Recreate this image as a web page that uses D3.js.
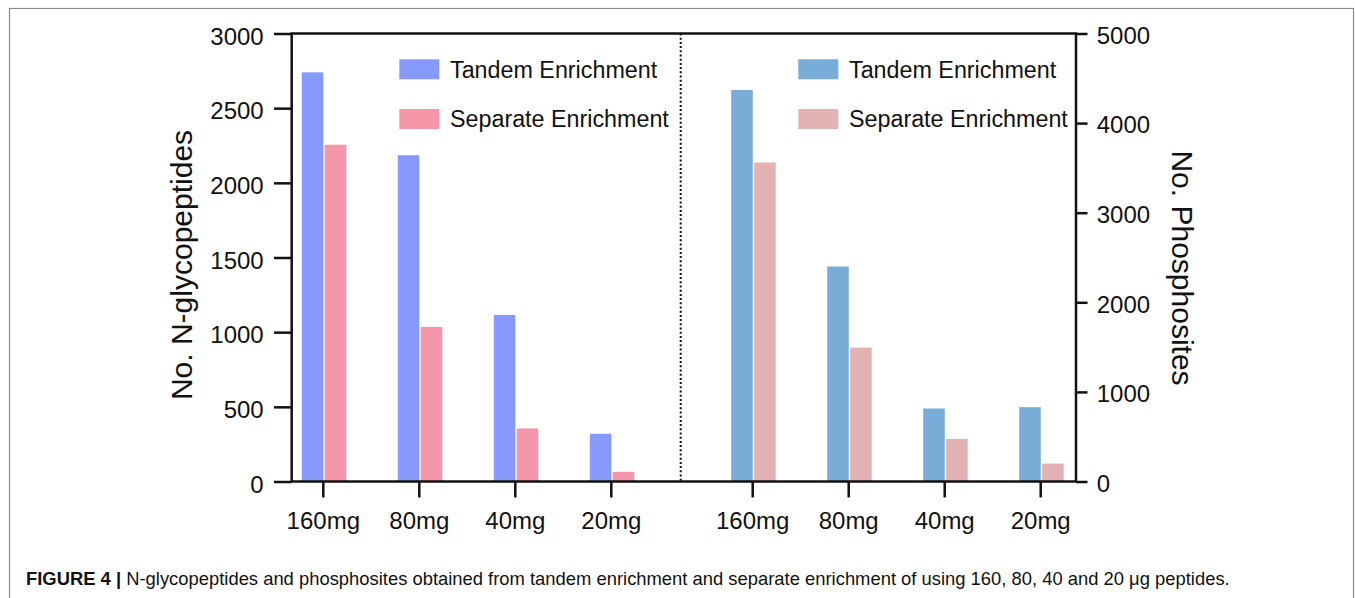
<!DOCTYPE html>
<html>
<head>
<meta charset="utf-8">
<script src="https://cdn.jsdelivr.net/npm/d3@7"></script>
<style>
  body { margin: 0; background: #fff; }
  text { font-family: "Liberation Sans", Arial, sans-serif; fill: #111; }
</style>
</head>
<body>
<div id="chart"></div>
<script>
const categories = ['160mg', '80mg', '40mg', '20mg'];
const seriesNames = ['Tandem Enrichment', 'Separate Enrichment'];
const glycoTandem = [2740, 2185, 1115, 320];
const glycoSeparate = [2255, 1035, 355, 65];
const phosTandem = [4370, 2400, 815, 830];
const phosSeparate = [3560, 1495, 475, 200];
const glycoTicks = [0, 500, 1000, 1500, 2000, 2500, 3000];
const phosTicks = [0, 1000, 2000, 3000, 4000, 5000];

const W = 1355, H = 598;
const plot = { left: 291.7, right: 1076, top: 33.5, bottom: 481.5 };

const svg = d3.select('#chart').append('svg')
    .attr('width', W)
    .attr('height', H);

// figure frame
svg.append('rect')
    .attr('x', 9.5).attr('y', 8.5)
    .attr('width', 1344).attr('height', 620)
    .attr('fill', 'none')
    .attr('stroke', '#8a8a8a')
    .attr('stroke-width', 1.2);

// Scales
const yLeft = d3.scaleLinear().domain([0, 3000]).range([plot.bottom, plot.top]);
const yRight = d3.scaleLinear().domain([0, 5000]).range([plot.bottom, plot.top]);
const xLeft = d3.scaleBand().domain(categories).range([275.3, 659.3]);
const xRight = d3.scaleBand().domain(categories).range([704.7, 1088.7]);
const xInner = d3.scaleBand().domain(seriesNames).range([-21.5, 23]).paddingInner(0.06);

const panels = [
    { x: xLeft, y: yLeft, values: [glycoTandem, glycoSeparate], colors: ['#8799fa', '#f597a8'], legendX: 399.3 },
    { x: xRight, y: yRight, values: [phosTandem, phosSeparate], colors: ['#79acd6', '#e3b2b2'], legendX: 798.3 }
];

// Bars
panels.forEach(p => {
    seriesNames.forEach((s, si) => {
        svg.append('g').selectAll('rect')
            .data(categories.map((c, i) => ({ c, v: p.values[si][i] })))
            .join('rect')
            .attr('x', d => p.x(d.c) + p.x.bandwidth() / 2 + xInner(s))
            .attr('y', d => p.y(d.v))
            .attr('width', xInner.bandwidth())
            .attr('height', d => p.y(0) - p.y(d.v))
            .attr('fill', p.colors[si]);
    });

    // Legend
    const lg = svg.append('g').attr('transform', `translate(${p.legendX},0)`);
    seriesNames.forEach((s, si) => {
        lg.append('rect')
            .attr('x', 0).attr('y', 59.3 + si * 49.7)
            .attr('width', 40).attr('height', 20)
            .attr('fill', p.colors[si]);
        lg.append('text')
            .attr('x', 50.7).attr('y', 77.7 + si * 48.8)
            .style('font-size', '23.3px')
            .text(s);
    });
});

// Divider
svg.append('line')
    .attr('x1', 680.7).attr('x2', 680.7)
    .attr('y1', plot.top).attr('y2', plot.bottom)
    .attr('stroke', '#111')
    .attr('stroke-width', 2)
    .attr('stroke-dasharray', '2,2.2');

// Axes
const styleAxis = g => {
    g.select('.domain').remove();
    g.selectAll('line').attr('stroke', '#111').attr('stroke-width', 2.5);
    g.selectAll('text').style('font-size', '24px').attr('fill', '#111');
};

svg.append('g')
    .attr('transform', `translate(${plot.left},0)`)
    .call(d3.axisLeft(yLeft).tickValues(glycoTicks).tickSize(17.7).tickFormat(d3.format('d')))
    .call(styleAxis)
    .call(g => g.selectAll('text').attr('x', -28).attr('dy', '0.45em'));

svg.append('g')
    .attr('transform', `translate(${plot.right},0)`)
    .call(d3.axisRight(yRight).tickValues(phosTicks).tickSize(11.5).tickFormat(d3.format('d')))
    .call(styleAxis)
    .call(g => g.selectAll('text').attr('x', 20.7).attr('dy', '0.41em'));

[xLeft, xRight].forEach(x => {
    svg.append('g')
        .attr('transform', `translate(0,${plot.bottom})`)
        .call(d3.axisBottom(x).tickSize(16).tickSizeOuter(0))
        .call(styleAxis)
        .call(g => g.selectAll('text').attr('y', 30));
});

// Plot frame
svg.append('rect')
    .attr('x', plot.left).attr('y', plot.top)
    .attr('width', plot.right - plot.left)
    .attr('height', plot.bottom - plot.top)
    .attr('fill', 'none')
    .attr('stroke', '#111')
    .attr('stroke-width', 2.5);

// Axis titles
svg.append('text')
    .attr('transform', 'translate(191.7,265) rotate(-90)')
    .attr('text-anchor', 'middle')
    .style('font-size', '30px')
    .text('No. N-glycopeptides');

svg.append('text')
    .attr('transform', 'translate(1171.7,268) rotate(90)')
    .attr('text-anchor', 'middle')
    .style('font-size', '30px')
    .text('No. Phosphosites');

// Caption
const cap = svg.append('text')
    .attr('x', 26).attr('y', 585.3)
    .style('font-size', '18.4px');
cap.append('tspan').style('font-weight', 'bold').text('FIGURE 4 | ');
cap.append('tspan').text('N-glycopeptides and phosphosites obtained from tandem enrichment and separate enrichment of using 160, 80, 40 and 20 μg peptides.');
</script>
</body>
</html>
